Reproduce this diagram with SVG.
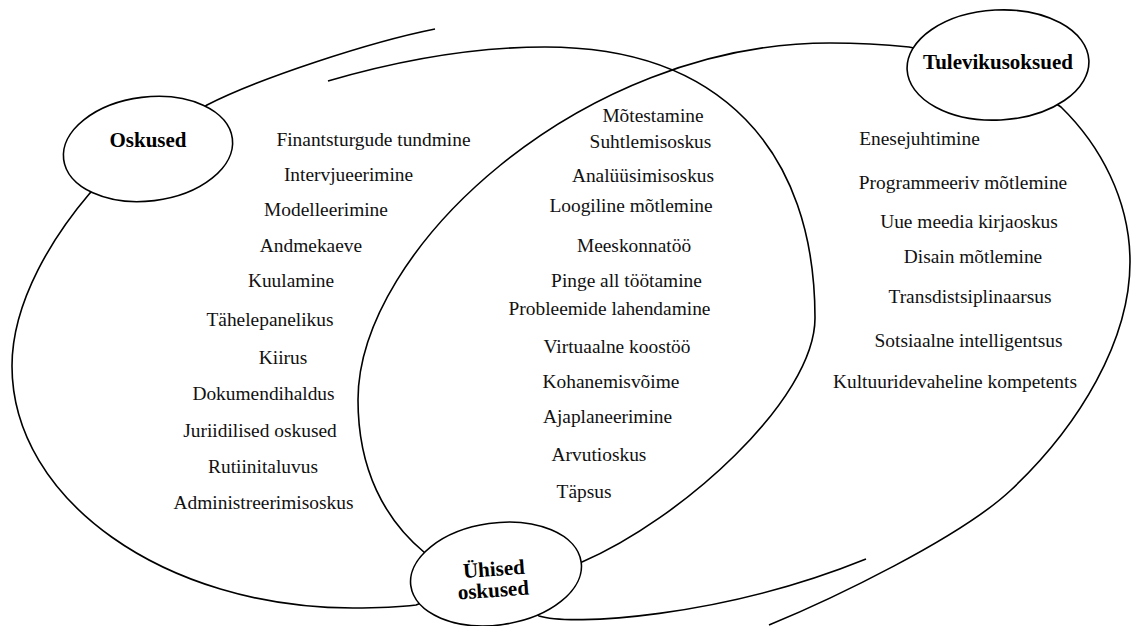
<svg xmlns="http://www.w3.org/2000/svg" width="1131" height="626" viewBox="0 0 1131 626">
<style>
.bg{fill:#fff}
.curve{fill:none;stroke:#000;stroke-width:1.6;stroke-linecap:butt;stroke-linejoin:round}
.node ellipse{fill:#fff;stroke:#000;stroke-width:1.6}
.lbl{font-family:"Liberation Serif","Times New Roman",serif;font-weight:bold;font-size:21px;text-anchor:middle;fill:#000}
.item{font-family:"Liberation Serif","Times New Roman",serif;font-size:19.4px;text-anchor:middle;fill:#111}
</style>
<rect class="bg" width="1131" height="626"/>
<g id="connectors">
<path id="set-left-outer" class="curve" d="M435,29 C370,42 260,78 207,105 L148,149 L90,193 C55,234 12,300 12,366 C12,500 165,608 353,608 C380,608 400,607 416,605 L496,574"/>
<path id="set-left-inner" class="curve" d="M328,81 C400,60 470,47 545,47 C720,47 815,150 815,318 C815,400 680,520 582,562 L496,574"/>
<path id="set-right-inner" class="curve" d="M998,65 L909,47 C880,44 860,43 830,43 C580,43 358,250 358,400 C358,470 385,520 425,553 L496,574 L539,616 C570,626 720,618 866,559"/>
<path id="set-right-outer" class="curve" d="M998,65 L1061,107 C1100,145 1130,200 1130,262 C1130,340 1080,425 1011,490 C960,538 830,600 769,625"/>
</g>
<g id="node-oskused" class="node">
<ellipse cx="148" cy="149" rx="85" ry="52" transform="rotate(-7 148 149)"/>
<text class="lbl" x="148" y="147">Oskused</text>
</g>
<g id="node-tulevikusoksued" class="node">
<ellipse cx="998" cy="65" rx="91" ry="55" transform="rotate(-3 998 65)"/>
<text class="lbl" x="998" y="69">Tulevikusoksued</text>
</g>
<g id="node-uhised" class="node">
<ellipse cx="496" cy="574" rx="86" ry="51" transform="rotate(-8 496 574)"/>
<text class="lbl" transform="rotate(-4 494 586)"><tspan x="495" y="576">Ühised</tspan><tspan x="493" y="597">oskused</tspan></text>
</g>
<g id="list-oskused">
<text class="item" x="373.5" y="146">Finantsturgude tundmine</text>
<text class="item" x="348.5" y="181">Intervjueerimine</text>
<text class="item" x="326" y="216">Modelleerimine</text>
<text class="item" x="311" y="252">Andmekaeve</text>
<text class="item" x="291" y="287">Kuulamine</text>
<text class="item" x="270" y="326">Tähelepanelikus</text>
<text class="item" x="283" y="364">Kiirus</text>
<text class="item" x="263.5" y="400">Dokumendihaldus</text>
<text class="item" x="260" y="437">Juriidilised oskused</text>
<text class="item" x="263" y="473">Rutiinitaluvus</text>
<text class="item" x="263.5" y="509">Administreerimisoskus</text>
</g>
<g id="list-uhised">
<text class="item" x="653" y="122">Mõtestamine</text>
<text class="item" x="650.5" y="148">Suhtlemisoskus</text>
<text class="item" x="643" y="182">Analüüsimisoskus</text>
<text class="item" x="631" y="212">Loogiline mõtlemine</text>
<text class="item" x="634" y="252">Meeskonnatöö</text>
<text class="item" x="626.5" y="287">Pinge all töötamine</text>
<text class="item" x="609.5" y="315">Probleemide lahendamine</text>
<text class="item" x="617" y="353">Virtuaalne koostöö</text>
<text class="item" x="611" y="388">Kohanemisvõime</text>
<text class="item" x="607.5" y="423">Ajaplaneerimine</text>
<text class="item" x="599" y="461">Arvutioskus</text>
<text class="item" x="584" y="498">Täpsus</text>
</g>
<g id="list-tulevikusoksued">
<text class="item" x="919.5" y="145">Enesejuhtimine</text>
<text class="item" x="963" y="189">Programmeeriv mõtlemine</text>
<text class="item" x="969" y="228">Uue meedia kirjaoskus</text>
<text class="item" x="973" y="263">Disain mõtlemine</text>
<text class="item" x="970" y="303">Transdistsiplinaarsus</text>
<text class="item" x="968.5" y="347">Sotsiaalne intelligentsus</text>
<text class="item" x="955" y="388">Kultuuridevaheline kompetents</text>
</g>
</svg>
